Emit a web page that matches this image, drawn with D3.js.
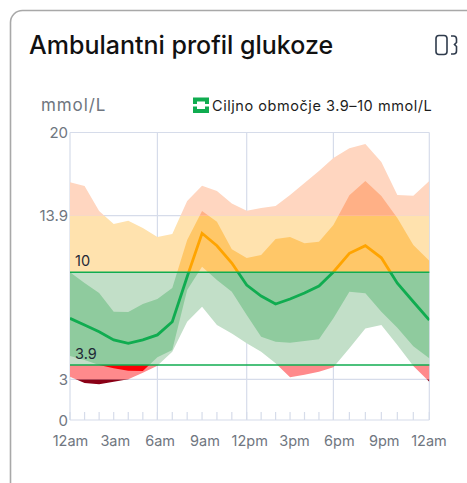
<!DOCTYPE html>
<html lang="sl">
<head>
    <meta charset="UTF-8">
    <title>Ambulantni profil glukoze</title>
    <script src="https://d3js.org/d3.v7.min.js"></script>
    <style>
        body { margin: 0; background: #fff; overflow: hidden; }
        svg { display: block; font-family: Inter, "Noto Sans", Arial, sans-serif; }
    </style>
</head>
<body>
    <svg id="chart" width="467" height="483"></svg>
    <script>
        // hourly values in mmol/L
        const hours = d3.range(0, 25);
        const outerHigh = [16.35, 16.08, 14.24, 13.33, 13.56, 13.05, 12.43, 12.64, 14.98, 16.1, 15.71, 14.8, 14.26, 14.46, 14.61, 15.42, 16.3, 17.18, 18.13, 18.84, 19.16, 17.84, 15.42, 15.37, 16.44];
        const innerHigh = [10.0, 9.3, 8.64, 7.41, 7.39, 7.91, 8.24, 8.97, 12.23, 14.24, 13.49, 11.58, 10.98, 11.19, 12.29, 12.43, 12.0, 12.11, 13.26, 15.4, 16.44, 15.34, 13.74, 11.88, 10.8];
        const median = [6.97, 6.53, 6.09, 5.55, 5.33, 5.55, 5.88, 6.75, 9.71, 12.69, 11.83, 10.64, 9.16, 8.44, 7.91, 8.24, 8.64, 9.1, 10.02, 11.31, 11.83, 11.0, 9.28, 8.06, 6.86];
        const innerLow = [4.49, 4.23, 3.9, 3.69, 3.54, 3.52, 4.41, 4.89, 8.83, 10.39, 9.49, 8.72, 7.19, 5.76, 5.43, 5.37, 5.48, 5.59, 6.97, 8.72, 8.62, 7.41, 6.35, 5.14, 4.34];
        const outerLow = [3.16, 2.73, 2.63, 2.82, 3.0, 3.42, 3.86, 4.78, 6.75, 7.74, 6.53, 5.98, 5.33, 4.78, 4.01, 3.13, 3.28, 3.48, 3.76, 5.0, 6.31, 6.53, 5.21, 3.84, 2.82];

        const yTicks = [0, 3, 13.9, 20];
        const targetLines = [3.9, 10];
        const xLabels = ["12am", "3am", "6am", "9am", "12pm", "3pm", "6pm", "9pm", "12am"];

        const svg = d3.select("#chart");

        // the source axes are not quite even, so both are piecewise
        const x = d3.scaleLinear().domain([0, 6, 12, 18, 24]).range([70, 157.4, 246.7, 333.4, 429.3]);
        const y = d3.scaleLinear().domain([0, 3, 3.9, 10, 13.9, 20]).range([420, 379.3, 365, 272.3, 215.7, 132.5]);
        const xLabel = d3.scalePoint().domain(d3.range(xLabels.length)).range([70.5, 429]);

        const gridColor = "#d6dcea";

        // card
        svg.append("rect")
            .attr("x", 10.5).attr("y", 10.5)
            .attr("width", 490).attr("height", 520)
            .attr("rx", 12)
            .attr("fill", "#fff")
            .attr("stroke", "#a8a8a8")
            .attr("stroke-width", 1.6);

        svg.append("text")
            .attr("x", 29).attr("y", 54)
            .attr("font-size", 25).attr("font-weight", 500).attr("fill", "#111")
            .text("Ambulantni profil glukoze");

        // icon top right
        const icon = svg.append("g").attr("fill", "none").attr("stroke", "#2f3b4c").attr("stroke-width", 1.6);
        icon.append("rect").attr("x", 436).attr("y", 35.5).attr("width", 11).attr("height", 19).attr("rx", 3);
        icon.append("path").attr("d", "M451 36h2.5a3 3 0 0 1 3 3v3.5l-2 2 2 2v4.5a3 3 0 0 1-3 3h-2.5");

        svg.append("text")
            .attr("x", 41).attr("y", 110.5)
            .attr("font-size", 17).attr("letter-spacing", 0.9).attr("fill", "#6f7680")
            .text("mmol/L");

        // legend
        svg.append("rect").attr("x", 193).attr("y", 97.5).attr("width", 16).attr("height", 15.5).attr("fill", "#10ac50");
        svg.append("rect").attr("x", 197).attr("y", 101.5).attr("width", 8).attr("height", 7.5).attr("fill", "#fff");
        svg.append("rect").attr("x", 193).attr("y", 104).attr("width", 16).attr("height", 2.5).attr("fill", "#fff");
        svg.append("text")
            .attr("x", 212).attr("y", 110.5)
            .attr("font-size", 14.5).attr("letter-spacing", 0.55).attr("fill", "#1c1c1c")
            .text("Ciljno območje 3.9–10 mmol/L");

        // grid
        const grid = svg.append("g").attr("stroke", gridColor).attr("stroke-width", 1.2);
        grid.selectAll("line.h").data([0, 3, 13.9, 20]).join("line")
            .attr("x1", x(0)).attr("x2", x(24))
            .attr("y1", d => y(d)).attr("y2", d => y(d));
        grid.selectAll("line.v").data([0, 6, 12, 18, 24]).join("line")
            .attr("x1", d => x(d)).attr("x2", d => x(d))
            .attr("y1", y(20)).attr("y2", y(0));
        grid.selectAll("line.t").data(hours).join("line")
            .attr("x1", d => x(d)).attr("x2", d => x(d))
            .attr("y1", y(0)).attr("y2", y(0) - 8);

        // each band is repainted per glucose zone through a clip
        const zones = [
            { id: "z0", from: 0, to: 3, outer: "#8a0016", inner: "#8a0016" },
            { id: "z1", from: 3, to: 3.9, outer: "#ff8a8c", inner: "#fb0006" },
            { id: "z2", from: 3.9, to: 10, outer: "#c2dfc8", inner: "#8fcb9e" },
            { id: "z3", from: 10, to: 13.9, outer: "#ffe2ae", inner: "#ffc768" },
            { id: "z4", from: 13.9, to: 20, outer: "#ffd6c0", inner: "#ffb086" }
        ];

        const band = (low, high) => d3.area()
            .x(d => x(d))
            .y0(d => y(low[d]))
            .y1(d => y(high[d]))(hours);

        const defs = svg.append("defs");
        zones.forEach(z => {
            defs.append("clipPath").attr("id", z.id)
                .append("rect")
                .attr("x", x(0)).attr("width", x(24) - x(0))
                .attr("y", y(z.to)).attr("height", y(z.from) - y(z.to));

            const g = svg.append("g").attr("clip-path", `url(#${z.id})`);
            g.append("path").attr("d", band(outerLow, outerHigh)).attr("fill", z.outer);
            g.append("path").attr("d", band(innerLow, innerHigh)).attr("fill", z.inner);
        });

        // median, green in target and orange above it
        const medianLine = d3.line().x(d => x(d)).y(d => y(median[d]))(hours);
        [
            { id: "m0", from: 0, to: 10, color: "#10ac50" },
            { id: "m1", from: 10, to: 20, color: "#ffa400" }
        ].forEach(m => {
            defs.append("clipPath").attr("id", m.id)
                .append("rect")
                .attr("x", x(0)).attr("width", x(24) - x(0))
                .attr("y", y(m.to)).attr("height", y(m.from) - y(m.to));
            svg.append("path")
                .attr("d", medianLine)
                .attr("clip-path", `url(#${m.id})`)
                .attr("fill", "none")
                .attr("stroke", m.color)
                .attr("stroke-width", 2.8);
        });

        // target range lines
        svg.selectAll("line.target").data(targetLines).join("line")
            .attr("x1", x(0)).attr("x2", x(24))
            .attr("y1", d => y(d)).attr("y2", d => y(d))
            .attr("stroke", "#10ac50")
            .attr("stroke-width", 1.5);

        svg.selectAll("text.target").data(targetLines).join("text")
            .attr("x", x(0) + 5)
            .attr("y", d => y(d) - 6)
            .attr("font-size", 14.5).attr("fill", "#1f2937")
            .text(d => d);

        // axis labels
        svg.selectAll("text.ytick").data(yTicks).join("text")
            .attr("x", 68)
            .attr("y", d => y(d) + 5.5)
            .attr("text-anchor", "end")
            .attr("font-size", 15).attr("fill", "#6f7680")
            .text(d => d);

        svg.selectAll("text.xtick").data(xLabels).join("text")
            .attr("x", (d, i) => xLabel(i))
            .attr("y", 446)
            .attr("text-anchor", "middle")
            .attr("font-size", 14.5).attr("fill", "#6f7680")
            .text(d => d);
    </script>
</body>
</html>
